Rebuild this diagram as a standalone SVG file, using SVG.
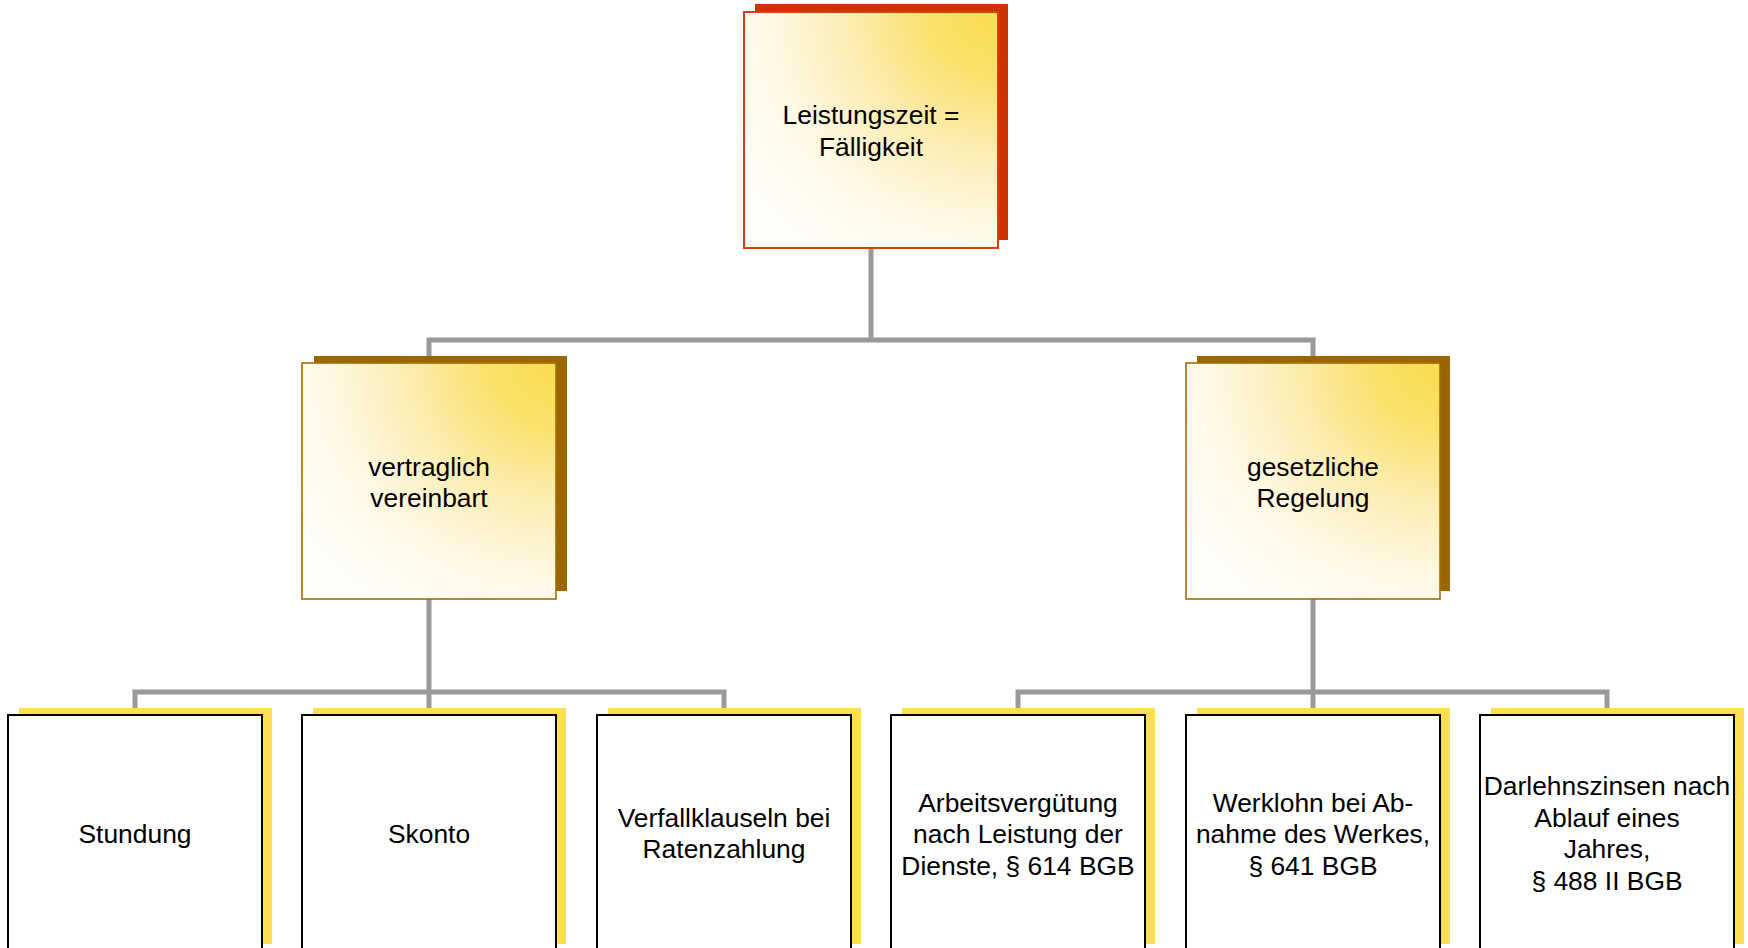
<svg xmlns="http://www.w3.org/2000/svg" width="1748" height="948" viewBox="0 0 1748 948">
  <defs>
    <radialGradient id="warm" gradientUnits="objectBoundingBox" cx="1" cy="0" r="1.2" fx="1" fy="0">
      <stop offset="0" stop-color="#FADD4E"/>
      <stop offset="0.22" stop-color="#FAE06A"/>
      <stop offset="0.5" stop-color="#FCEDB4"/>
      <stop offset="0.75" stop-color="#FEF8E4"/>
      <stop offset="1" stop-color="#FFFDF8"/>
    </radialGradient>
  </defs>
  <style>
    .lbl { font-family: "Liberation Sans", Arial, sans-serif; font-size: 26.4px; fill: #000; text-anchor: middle; }
    .conn { fill: none; stroke: #999999; stroke-width: 5; stroke-linejoin: miter; stroke-linecap: butt; }
    .sh-red { fill: #CC3300; }
    .sh-brown { fill: #996600; }
    .sh-yellow { fill: #FADF55; }
    .box-top { fill: url(#warm); stroke: #D4410F; stroke-width: 2; }
    .box-mid { fill: url(#warm); stroke: #A26C06; stroke-width: 1.6; }
    .box-leaf { fill: #FFFFFF; stroke: #000000; stroke-width: 2; }
  </style>

  <g id="connectors">
    <path class="conn" d="M871,248 V340"/>
    <path class="conn" d="M429,363 V340 H1313 V363"/>
    <path class="conn" d="M429,599 V692"/>
    <path class="conn" d="M135,715 V692 H724 V715"/>
    <path class="conn" d="M429,692 V715"/>
    <path class="conn" d="M1313,599 V692"/>
    <path class="conn" d="M1018,715 V692 H1607 V715"/>
    <path class="conn" d="M1313,692 V715"/>
  </g>

  <g id="node-top">
    <rect class="sh-red" x="755" y="4" width="253" height="236"/>
    <rect class="box-top" x="744" y="12" width="254" height="236"/>
    <text class="lbl" x="871" y="124">Leistungszeit =</text>
    <text class="lbl" x="871" y="156">Fälligkeit</text>
  </g>

  <g id="node-vertraglich">
    <rect class="sh-brown" x="314" y="356" width="253" height="235"/>
    <rect class="box-mid" x="302" y="363" width="254" height="236"/>
    <text class="lbl" x="429" y="476">vertraglich</text>
    <text class="lbl" x="429" y="507">vereinbart</text>
  </g>

  <g id="node-gesetzlich">
    <rect class="sh-brown" x="1197" y="356" width="253" height="235"/>
    <rect class="box-mid" x="1186" y="363" width="254" height="236"/>
    <text class="lbl" x="1313" y="476">gesetzliche</text>
    <text class="lbl" x="1313" y="507">Regelung</text>
  </g>

  <g id="node-stundung">
    <rect class="sh-yellow" x="19" y="708" width="253" height="236"/>
    <rect class="box-leaf" x="8" y="715" width="254" height="236"/>
    <text class="lbl" x="135" y="843">Stundung</text>
  </g>

  <g id="node-skonto">
    <rect class="sh-yellow" x="313" y="708" width="253" height="236"/>
    <rect class="box-leaf" x="302" y="715" width="254" height="236"/>
    <text class="lbl" x="429" y="843">Skonto</text>
  </g>

  <g id="node-verfall">
    <rect class="sh-yellow" x="608" y="708" width="253" height="236"/>
    <rect class="box-leaf" x="597" y="715" width="254" height="236"/>
    <text class="lbl" x="724" y="827">Verfallklauseln bei</text>
    <text class="lbl" x="724" y="858">Ratenzahlung</text>
  </g>

  <g id="node-arbeit">
    <rect class="sh-yellow" x="902" y="708" width="253" height="236"/>
    <rect class="box-leaf" x="891" y="715" width="254" height="236"/>
    <text class="lbl" x="1018" y="812">Arbeitsvergütung</text>
    <text class="lbl" x="1018" y="843">nach Leistung der</text>
    <text class="lbl" x="1018" y="875">Dienste, § 614 BGB</text>
  </g>

  <g id="node-werklohn">
    <rect class="sh-yellow" x="1197" y="708" width="253" height="236"/>
    <rect class="box-leaf" x="1186" y="715" width="254" height="236"/>
    <text class="lbl" x="1313" y="812">Werklohn bei Ab-</text>
    <text class="lbl" x="1313" y="843">nahme des Werkes,</text>
    <text class="lbl" x="1313" y="875">§ 641 BGB</text>
  </g>

  <g id="node-darlehen">
    <rect class="sh-yellow" x="1491" y="708" width="253" height="236"/>
    <rect class="box-leaf" x="1480" y="715" width="254" height="236"/>
    <text class="lbl" x="1607" y="795">Darlehnszinsen nach</text>
    <text class="lbl" x="1607" y="827">Ablauf eines</text>
    <text class="lbl" x="1607" y="858">Jahres,</text>
    <text class="lbl" x="1607" y="890">§ 488 II BGB</text>
  </g>
</svg>
